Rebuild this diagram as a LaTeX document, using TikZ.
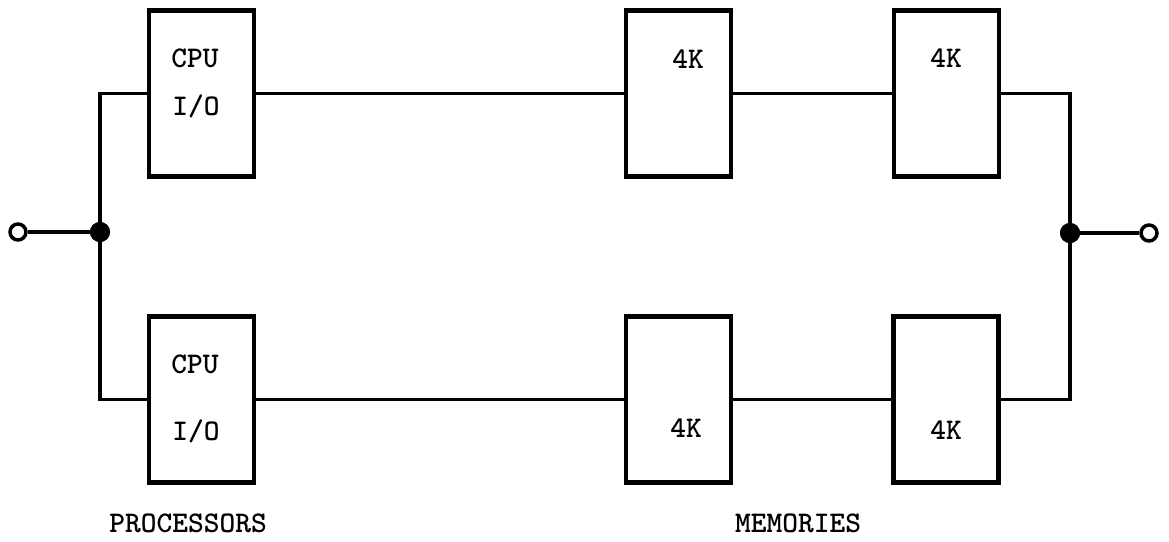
\documentclass[tikz,border=0pt]{standalone}
\usepackage{fontspec}
\begin{document}
\begin{tikzpicture}[x=1pt,y=-1pt,
  unit/.style={draw, line width=4.5pt, minimum width=105pt, minimum height=166pt, inner sep=0pt},
  wire/.style={line width=3.8pt},
  txt/.style={inner sep=0pt, font=\fontsize{30}{30}\selectfont\ttfamily\bfseries, text height=18pt, text depth=0pt},
  junction/.style={circle, fill=black, inner sep=0pt, minimum size=20pt},
  terminal/.style={circle, draw, line width=3.5pt, fill=white, inner sep=0pt, minimum size=16pt}]
\useasboundingbox (0,0) rectangle (1169,541);
% boxes
\node[unit] (cpuT) at (201.5,93.5) {};
\node[unit] (cpuB) at (201.5,399.5) {};
\node[unit] (memT1) at (678.5,93.5) {};
\node[unit] (memT2) at (946.5,93.5) {};
\node[unit] (memB1) at (678.5,399.5) {};
\node[unit] (memB2) at (946,399.5) {};
% texts
\node[txt] (cpuTa) at (195,58) {CPU};
\node[txt] (cpuTb) at (196,106) {I/O};
\node[txt] (cpuBa) at (195,364) {CPU};
\node[txt] (cpuBb) at (196,431) {I/O};
\node[txt] (kT1) at (688,59) {4K};
\node[txt] (kT2) at (946,58) {4K};
\node[txt] (kB1) at (686,428) {4K};
\node[txt] (kB2) at (946,430) {4K};
\node[txt] (proc) at (188,523) {PROCESSORS};
\node[txt] (mem) at (798,523) {MEMORIES};
% junctions and terminals
\node[junction] (jl) at (100,232) {};
\node[junction] (jr) at (1070,233) {};
\node[terminal] (tl) at (18,232) {};
\node[terminal] (tr) at (1149,233) {};
% wiring
\draw[wire] (cpuT.west) -| (jl.center) |- (cpuB.west);
\draw[wire] (memT2.east) -| (jr.center) |- (memB2.east);
\draw[wire] (cpuT.east) -- (memT1.west);
\draw[wire] (memT1.east) -- (memT2.west);
\draw[wire] (cpuB.east) -- (memB1.west);
\draw[wire] (memB1.east) -- (memB2.west);
\draw[wire] (tl) -- (jl);
\draw[wire] (jr) -- (tr);
\node[junction] at (jl) {};
\node[junction] at (jr) {};
\end{tikzpicture}
\end{document}
